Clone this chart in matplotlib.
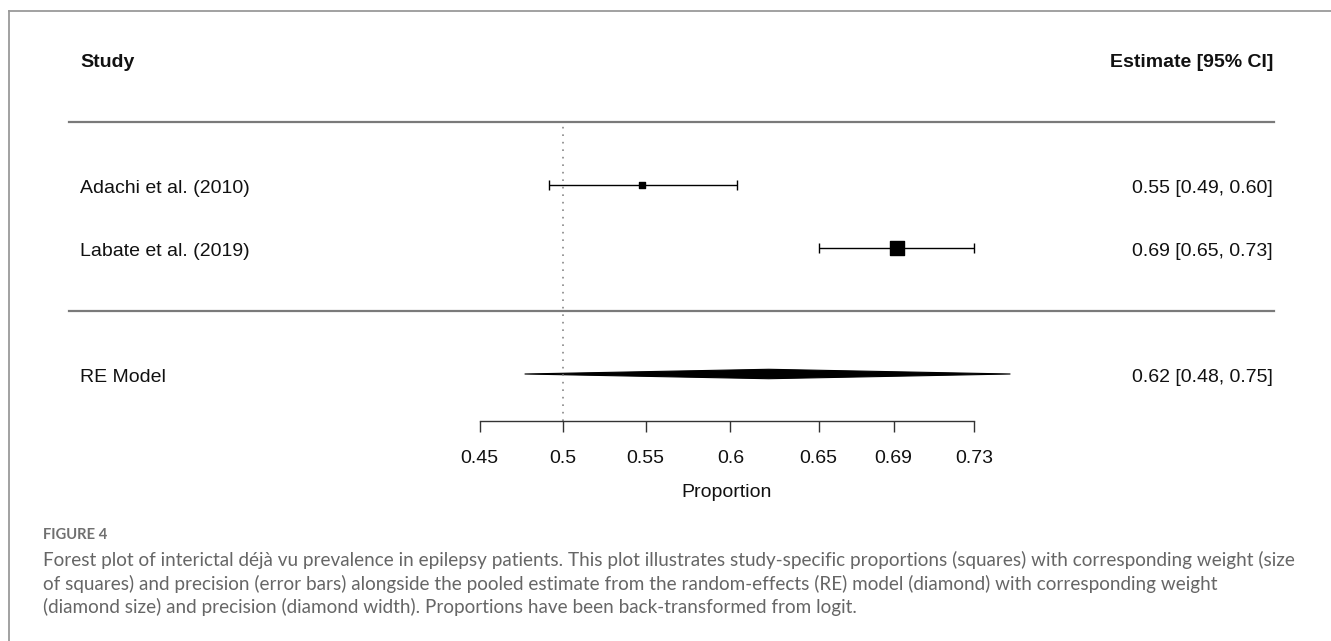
import matplotlib
matplotlib.use("Agg")
import matplotlib.pyplot as plt
import matplotlib.transforms as mtransforms
from matplotlib.patches import Polygon

# ---- data ----
studies = ["Adachi et al. (2010)", "Labate et al. (2019)"]
estimates = [0.548, 0.692]
ci_low = [0.492, 0.650]
ci_high = [0.604, 0.730]
study_sizes = [14, 95]          # marker area (weights)
est_labels = ["0.55 [0.49, 0.60]", "0.69 [0.65, 0.73]"]
re_label = "RE Model"
re_est, re_low, re_high = 0.622, 0.477, 0.747
re_text = "0.62 [0.48, 0.75]"
ticks = [0.45, 0.5, 0.55, 0.6, 0.65, 0.69, 0.73]
tick_labels = ["0.45", "0.5", "0.55", "0.6", "0.65", "0.69", "0.73"]
caption_title = "FIGURE 4"
caption_lines = [
    "Forest plot of interictal déjà vu prevalence in epilepsy patients. This plot illustrates study-specific proportions (squares) with corresponding weight (size",
    "of squares) and precision (error bars) alongside the pooled estimate from the random-effects (RE) model (diamond) with corresponding weight",
    "(diamond size) and precision (diamond width). Proportions have been back-transformed from logit.",
]

W, H = 1331, 641
plt.rcParams['font.family'] = ['Liberation Sans', 'DejaVu Sans']
fig = plt.figure(figsize=(W / 100, H / 100), dpi=100)

def fx(px):
    return px / W

def fy(py):
    return 1 - py / H

# row layout: pixel = 311 - 63*row
row_px = lambda r: 311 - 63 * r
ybot, ytop = -1.75, 4.5
ax_left, ax_right = 479.7, 974.0
ax = fig.add_axes([fx(ax_left), fy(row_px(ybot)), (ax_right - ax_left) / W,
                   (row_px(ybot) - row_px(ytop)) / H])
ax.set_xscale('logit')
ax.set_xlim(0.45, 0.73)
ax.set_ylim(ybot, ytop)
for s in ['top', 'right', 'left']:
    ax.spines[s].set_visible(False)
ax.spines['bottom'].set_linewidth(1.0)
ax.spines['bottom'].set_color('#333333')
ax.set_yticks([])
ax.xaxis.set_minor_locator(matplotlib.ticker.NullLocator())
ax.set_xticks(ticks)
ax.set_xticklabels(tick_labels)
ax.tick_params(axis='x', direction='out', length=8, width=1.0, color='#333333',
               labelsize=14, pad=13, labelcolor='#111111')
ax.minorticks_off()
ax.set_xlabel("Proportion", fontsize=14, labelpad=12, color='#111111')
ax.patch.set_alpha(0)

blend = mtransforms.blended_transform_factory(fig.transFigure, ax.transData)
dy = -0.05  # text vertical nudge (rows)

# header
ax.text(fx(80), 4 + dy, "Study", transform=blend, fontsize=14, fontweight='bold',
        ha='left', va='center', color='#111111')
ax.text(fx(1273), 4 + dy, "Estimate [95% CI]", transform=blend, fontsize=14,
        fontweight='bold', ha='right', va='center', color='#111111')

# separator lines
for r in [3, 0]:
    ax.plot([fx(69), fx(1274)], [r, r], transform=blend, color='#7a7a7a',
            lw=1.6, clip_on=False)

# reference line
ax.vlines(0.5, ybot, 3, colors='#888888', linestyles=(0, (1, 3.5)), lw=1.2)

# studies
rows = [2, 1]
for name, e, lo, hi, sz, lab, r in zip(studies, estimates, ci_low, ci_high,
                                        study_sizes, est_labels, rows):
    ax.errorbar([e], [r], xerr=[[e - lo], [hi - e]], fmt='none', ecolor='black',
                elinewidth=1.0, capsize=3.5, capthick=1.0, clip_on=False)
    ax.scatter([e], [r], marker='s', s=sz, color='black', zorder=3, clip_on=False)
    ax.text(fx(80), r + dy, name, transform=blend, fontsize=14, ha='left',
            va='center', color='#111111')
    ax.text(fx(1273), r + dy, lab, transform=blend, fontsize=14, ha='right',
            va='center', color='#111111')

# RE model diamond
hh = 0.075
diamond = Polygon([(re_low, -1), (re_est, -1 + hh), (re_high, -1), (re_est, -1 - hh)],
                  closed=True, facecolor='black', edgecolor='black', lw=0.8,
                  clip_on=False)
ax.add_patch(diamond)
ax.text(fx(80), -1 + dy, re_label, transform=blend, fontsize=14, ha='left',
        va='center', color='#111111')
ax.text(fx(1273), -1 + dy, re_text, transform=blend, fontsize=14, ha='right',
        va='center', color='#111111')

# figure frame (left and top edges)
fig.add_artist(plt.Line2D([fx(9), fx(9)], [fy(11), 0], color='#9a9a9a', lw=1.3))
fig.add_artist(plt.Line2D([fx(9), 1], [fy(11), fy(11)], color='#9a9a9a', lw=1.3))

# caption
fig.text(fx(43), fy(535), caption_title, fontsize=10.6, color='#707070',
         family=['Lato', 'DejaVu Sans'], fontweight='bold', ha='left', va='center')
for i, line in enumerate(caption_lines):
    fig.text(fx(43), fy(560 + 23.5 * i), line, fontsize=13.6, color='#666666',
             family=['Lato', 'DejaVu Sans'], ha='left', va='center')

fig.savefig("out.png", dpi=100)
